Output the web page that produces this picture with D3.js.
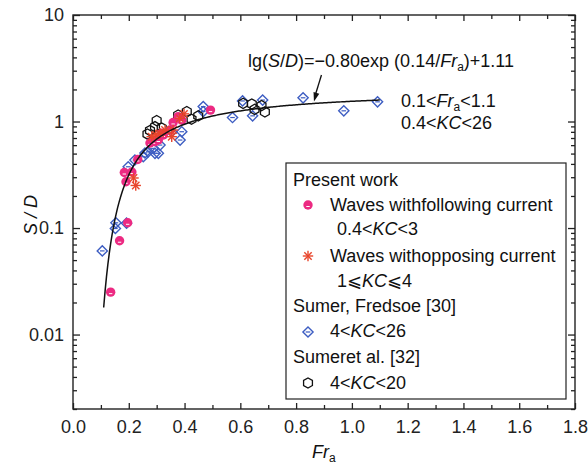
<!DOCTYPE html>
<html>
<head>
<meta charset="utf-8">
<script src="https://cdn.jsdelivr.net/npm/d3@7"></script>
<style>
  html, body { margin: 0; padding: 0; background: #fff; }
  svg { display: block; font-family: "Liberation Sans", Arial, sans-serif; }
  .axis path, .axis line { stroke: #222; }
  .axis text { font-size: 18px; fill: #222; }
</style>
</head>
<body>
<svg id="chart" width="588" height="470"></svg>
<script>
// Scour depth S/D against Fr_a
const frFollow = [0.135, 0.167, 0.196, 0.184, 0.211, 0.190, 0.232, 0.276, 0.294, 0.306, 0.318, 0.324, 0.348, 0.359, 0.377, 0.390, 0.493];
const sdFollow = [0.025, 0.076, 0.112, 0.332, 0.336, 0.272, 0.440, 0.628, 0.646, 0.670, 0.775, 0.747, 0.832, 0.979, 1.11, 1.03, 1.28];

const frOppose = [0.217, 0.225, 0.282, 0.297, 0.312, 0.330, 0.354, 0.359, 0.383, 0.398];
const sdOppose = [0.295, 0.251, 0.720, 0.747, 0.775, 0.832, 0.720, 0.832, 1.07, 1.18];

const frSumerFredsoe = [0.105, 0.152, 0.154, 0.192, 0.198, 0.222, 0.252, 0.258, 0.270, 0.288, 0.294, 0.306, 0.312, 0.354, 0.384, 0.390, 0.467, 0.467, 0.572, 0.608, 0.644, 0.680, 0.825, 0.971, 1.092];
const sdSumerFredsoe = [0.061, 0.099, 0.112, 0.111, 0.376, 0.435, 0.467, 0.506, 0.520, 0.560, 0.503, 0.503, 0.601, 0.802, 0.670, 0.802, 1.38, 1.24, 1.09, 1.56, 1.13, 1.59, 1.67, 1.26, 1.53];

const frSumerEtAl = [0.267, 0.276, 0.294, 0.300, 0.318, 0.377, 0.408, 0.425, 0.449, 0.610, 0.641, 0.651, 0.676, 0.688];
const sdSumerEtAl = [0.763, 0.823, 0.894, 1.02, 0.869, 1.15, 1.24, 1.05, 1.13, 1.48, 1.46, 1.30, 1.41, 1.23];

// fitted curve lg(S/D) = a*exp(b/Fr) + c, valid for 0.11 <= Fr <= 1.1
const fitCoef = [-0.80, 0.14, 1.11];
const fitRange = [0.11, 1.1];

const xTicks = [0.0, 0.2, 0.4, 0.6, 0.8, 1.0, 1.2, 1.4, 1.6, 1.8];
const yTicks = [0.01, 0.1, 1, 10];

const colPink = "#ec2a82", colRed = "#e8452c", colBlue = "#3d5dc2", colBlack = "#111";
const FS = 18, FSUB = 12;

const svg = d3.select("#chart");
const plotL = 73, plotR = 575, plotT = 15, plotB = 409;
const x = d3.scaleLinear().domain([0, 1.8]).range([plotL, plotR]);
const y = d3.scaleLog().domain([0.002, 10]).range([plotB, plotT]);

// minor tick values
const xMinor = d3.range(0.1, 1.8, 0.2);
const yMinor = [];
[0.001, 0.01, 0.1, 1].forEach(dec => { for (let k = 2; k <= 9; k++) { const v = dec * k; if (v >= 0.002 && v < 10) yMinor.push(v); } });

function addAxis(gen, tr, vals, size, withLabels, fmt, pad) {
  const g = svg.append("g").attr("class", "axis").attr("transform", tr)
    .call(gen.tickValues(vals).tickSize(size).tickPadding(pad || 3).tickFormat(withLabels ? fmt : () => ""));
  g.select(".domain").remove();
  g.selectAll("line").attr("stroke-width", 1.3);
  return g;
}
// bottom
addAxis(d3.axisBottom(x), `translate(0,${plotB})`, xTicks, -6, true, d3.format(".1f"), 11);
addAxis(d3.axisBottom(x), `translate(0,${plotB})`, xMinor, -4, false);
// top
addAxis(d3.axisTop(x), `translate(0,${plotT})`, xTicks, -6, false);
addAxis(d3.axisTop(x), `translate(0,${plotT})`, xMinor, -4, false);
// left
addAxis(d3.axisLeft(y), `translate(${plotL},0)`, yTicks, -7, true, d => d >= 1 ? d3.format("d")(d) : String(d), 9);
addAxis(d3.axisLeft(y), `translate(${plotL},0)`, yMinor, -4, false);
// right
addAxis(d3.axisRight(y), `translate(${plotR},0)`, yTicks, -7, false);
addAxis(d3.axisRight(y), `translate(${plotR},0)`, yMinor, -4, false);

// frame
svg.append("rect").attr("x", plotL).attr("y", plotT).attr("width", plotR - plotL).attr("height", plotB - plotT)
  .attr("fill", "none").attr("stroke", "#222").attr("stroke-width", 1.4);

// marker painters
function drawPink(g, cx, cy) {
  g.append("circle").attr("cx", cx).attr("cy", cy).attr("r", 4.7).attr("fill", colPink);
  g.append("line").attr("x1", cx - 1.7).attr("x2", cx + 1.7).attr("y1", cy + 1.5).attr("y2", cy + 1.5)
    .attr("stroke", "#fff").attr("stroke-width", 1);
}
function drawStar(g, cx, cy) {
  const r = 5.2;
  [0, 45, 90, 135].forEach(a => {
    const t = a * Math.PI / 180;
    g.append("line").attr("x1", cx - r * Math.cos(t)).attr("y1", cy - r * Math.sin(t))
      .attr("x2", cx + r * Math.cos(t)).attr("y2", cy + r * Math.sin(t))
      .attr("stroke", colRed).attr("stroke-width", 1.4);
  });
}
function drawDiamond(g, cx, cy) {
  const r = 5.1;
  g.append("path").attr("d", `M${cx},${cy - r}L${cx + r},${cy}L${cx},${cy + r}L${cx - r},${cy}Z`)
    .attr("fill", "none").attr("stroke", colBlue).attr("stroke-width", 1.4);
  g.append("line").attr("x1", cx - 2.3).attr("x2", cx + 2.3).attr("y1", cy).attr("y2", cy)
    .attr("stroke", colBlue).attr("stroke-width", 1.2);
}
function drawHex(g, cx, cy) {
  const r = 5.1;
  const pts = d3.range(6).map(i => { const t = Math.PI / 6 + i * Math.PI / 3; return [cx + r * Math.cos(t), cy + r * Math.sin(t)]; });
  g.append("path").attr("d", "M" + pts.map(p => p.join(",")).join("L") + "Z")
    .attr("fill", "none").attr("stroke", colBlack).attr("stroke-width", 1.3);
}

const gPts = svg.append("g");
frSumerFredsoe.forEach((f, i) => drawDiamond(gPts, x(f), y(sdSumerFredsoe[i])));
frSumerEtAl.forEach((f, i) => drawHex(gPts, x(f), y(sdSumerEtAl[i])));
frFollow.forEach((f, i) => drawPink(gPts, x(f), y(sdFollow[i])));
frOppose.forEach((f, i) => drawStar(gPts, x(f), y(sdOppose[i])));

// fitted curve
const fit = fr => Math.pow(10, fitCoef[0] * Math.exp(fitCoef[1] / fr) + fitCoef[2]);
const curveFr = d3.range(fitRange[0], fitRange[1] + 1e-9, 0.005);
svg.append("path").datum(curveFr)
  .attr("d", d3.line().x(f => x(f)).y(f => y(fit(f))))
  .attr("fill", "none").attr("stroke", "#111").attr("stroke-width", 1.5);

// equation label + arrow
const eq = svg.append("text").attr("x", 248).attr("y", 67).attr("font-size", FS).attr("fill", "#111");
eq.append("tspan").text("lg(");
eq.append("tspan").attr("font-style", "italic").text("S");
eq.append("tspan").text("/");
eq.append("tspan").attr("font-style", "italic").text("D");
eq.append("tspan").text(")=−0.80exp (0.14/");
eq.append("tspan").attr("font-style", "italic").text("Fr");
eq.append("tspan").attr("font-size", FSUB).attr("dy", 4).text("a");
eq.append("tspan").attr("dy", -4).text(")+1.11");

const arrowFr = 0.864;
const tipX = x(arrowFr), tipY = y(fit(arrowFr)) - 2;
const sx = tipX + 7.5, sy = 75;
svg.append("line").attr("x1", sx).attr("y1", sy).attr("x2", tipX + 1.2).attr("y2", tipY - 6)
  .attr("stroke", "#111").attr("stroke-width", 1.3);
{
  const ang = Math.atan2(tipY - sy, tipX - sx);
  const L = 9, W = 3;
  const bx = tipX - L * Math.cos(ang), by = tipY - L * Math.sin(ang);
  const px = -Math.sin(ang) * W, py = Math.cos(ang) * W;
  svg.append("path").attr("d", `M${tipX},${tipY}L${bx + px},${by + py}L${bx - px},${by - py}Z`).attr("fill", "#111");
}

// range notes
const r1 = svg.append("text").attr("x", 401).attr("y", 107).attr("font-size", FS).attr("fill", "#111");
r1.append("tspan").text("0.1<");
r1.append("tspan").attr("font-style", "italic").text("Fr");
r1.append("tspan").attr("font-size", FSUB).attr("dy", 4).text("a");
r1.append("tspan").attr("dy", -4).text("<1.1");
const r2 = svg.append("text").attr("x", 401).attr("y", 129).attr("font-size", FS).attr("fill", "#111");
r2.append("tspan").text("0.4<");
r2.append("tspan").attr("font-style", "italic").text("KC");
r2.append("tspan").text("<26");

// legend
const legendGroups = ["Present work", "Sumer, Fredsoe [30]", "Sumeret al. [32]"];
const legendLabels = ["Waves withfollowing current", "Waves withopposing current", "4<KC<26", "4<KC<20"];
const legendRanges = ["0.4<KC<3", "1⩽KC⩽4"];

svg.append("rect").attr("x", 286).attr("y", 163).attr("width", 280).attr("height", 236)
  .attr("fill", "#fff").attr("stroke", "#222").attr("stroke-width", 1.2);

function kcText(xp, yp, str) {
  const t = svg.append("text").attr("x", xp).attr("y", yp).attr("font-size", FS).attr("fill", "#111");
  const m = str.split("KC");
  t.append("tspan").text(m[0]);
  t.append("tspan").attr("font-style", "italic").text("KC");
  t.append("tspan").text(m[1]);
}
function plain(xp, yp, str) {
  svg.append("text").attr("x", xp).attr("y", yp).attr("font-size", FS).attr("fill", "#111").text(str);
}
const lg = svg.append("g");
plain(293, 186, legendGroups[0]);
drawPink(lg, 308, 205); plain(330, 211, legendLabels[0]);
kcText(337, 235, legendRanges[0]);
drawStar(lg, 308, 256); plain(330, 262, legendLabels[1]);
kcText(337, 287, legendRanges[1]);
plain(293, 312, legendGroups[1]);
drawDiamond(lg, 308, 332); kcText(330, 337, legendLabels[2]);
plain(293, 363, legendGroups[2]);
drawHex(lg, 308, 383); kcText(330, 389, legendLabels[3]);

// axis titles
const xt = svg.append("text").attr("x", 312).attr("y", 458).attr("font-size", FS).attr("fill", "#111");
xt.append("tspan").attr("font-style", "italic").text("Fr");
xt.append("tspan").attr("font-size", FSUB).attr("dy", 4).text("a");

svg.append("text").attr("transform", "translate(37,215) rotate(-90)").attr("text-anchor", "middle")
  .attr("font-size", FS).attr("font-style", "italic").attr("fill", "#111").text("S / D");
</script>
</body>
</html>
